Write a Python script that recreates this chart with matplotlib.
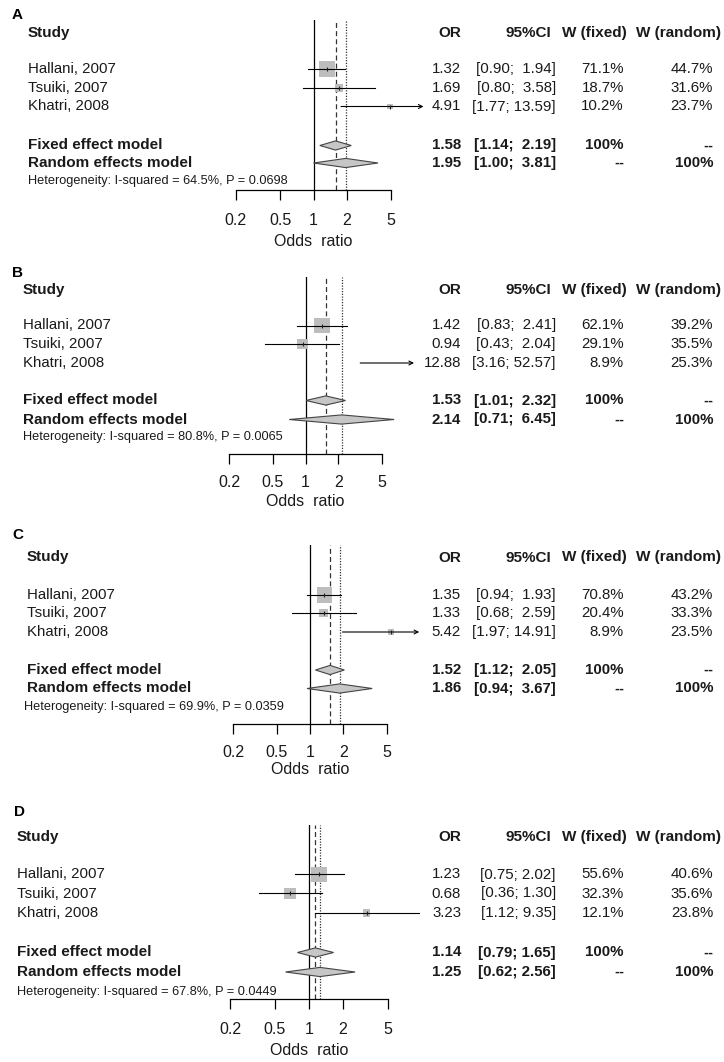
import matplotlib
matplotlib.use("Agg")
import matplotlib.pyplot as plt
from matplotlib.ticker import NullLocator
import numpy as np

plt.rcParams['font.family'] = ['Liberation Sans', 'DejaVu Sans']

# ---------------- data ----------------
studies = ["Hallani, 2007", "Tsuiki, 2007", "Khatri, 2008"]
panel_labels = ["A", "B", "C", "D"]
tick_values = [0.2, 0.5, 1, 2, 5]
tick_labels = ["0.2", "0.5", "1", "2", "5"]

or_A = [1.32, 1.69, 4.91]
lo_A = [0.90, 0.80, 1.77]
hi_A = [1.94, 3.58, 13.59]
wf_A = [71.1, 18.7, 10.2]
wr_A = [44.7, 31.6, 23.7]
fixed_A = [1.58, 1.14, 2.19]
random_A = [1.95, 1.00, 3.81]
i2_A, p_A = 64.5, "0.0698"

or_B = [1.42, 0.94, 12.88]
lo_B = [0.83, 0.43, 3.16]
hi_B = [2.41, 2.04, 52.57]
wf_B = [62.1, 29.1, 8.9]
wr_B = [39.2, 35.5, 25.3]
fixed_B = [1.53, 1.01, 2.32]
random_B = [2.14, 0.71, 6.45]
i2_B, p_B = 80.8, "0.0065"

or_C = [1.35, 1.33, 5.42]
lo_C = [0.94, 0.68, 1.97]
hi_C = [1.93, 2.59, 14.91]
wf_C = [70.8, 20.4, 8.9]
wr_C = [43.2, 33.3, 23.5]
fixed_C = [1.52, 1.12, 2.05]
random_C = [1.86, 0.94, 3.67]
i2_C, p_C = 69.9, "0.0359"

or_D = [1.23, 0.68, 3.23]
lo_D = [0.75, 0.36, 1.12]
hi_D = [2.02, 1.30, 9.35]
wf_D = [55.6, 32.3, 12.1]
wr_D = [40.6, 35.6, 23.8]
fixed_D = [1.14, 0.79, 1.65]
random_D = [1.25, 0.62, 2.56]
i2_D, p_D = 67.8, "0.0449"

panels = [
    (or_A, lo_A, hi_A, wf_A, wr_A, fixed_A, random_A, i2_A, p_A),
    (or_B, lo_B, hi_B, wf_B, wr_B, fixed_B, random_B, i2_B, p_B),
    (or_C, lo_C, hi_C, wf_C, wr_C, fixed_C, random_C, i2_C, p_C),
    (or_D, lo_D, hi_D, wf_D, wr_D, fixed_D, random_D, i2_D, p_D),
]

# ---------------- layout (pixels) ----------------
W, H = 724, 1062
layouts = [
    dict(letter=(12, 15), left=28, hetx=28, head=33, rows=[69, 88, 106.5], fixed=145.5, random=163,
         het=181, top=20, axis=190, p1=313.5, ppd=111, xlab=241, pad=9.5),
    dict(letter=(12, 273), left=23, hetx=23, head=290, rows=[325.5, 344, 363], fixed=400.5, random=419.5,
         het=437, top=277, axis=453.5, p1=305.5, ppd=109.5, xlab=501, pad=8.5),
    dict(letter=(12, 535), left=27, hetx=24, head=557.5, rows=[595, 613, 632], fixed=670, random=688.5,
         het=707, top=545, axis=723.5, p1=310, ppd=110.2, xlab=769, pad=8.0),
    dict(letter=(14, 812), left=17, hetx=17, head=837, rows=[874.5, 893.5, 913], fixed=952.5, random=972,
         het=991.5, top=825, axis=998.5, p1=309, ppd=113, xlab=1051, pad=9.5),
]
col_or, col_ci, col_wf, col_wr = 461, 556, 624, 713
head_or, head_ci, head_wf, head_wr = 461, 551, 627, 721
XMAX = 10.0
ARROW_END = 9.8

fig = plt.figure(figsize=(W / 100, H / 100), dpi=100)
fig.patch.set_facecolor("white")

FS = 10.8
TXT = "#1a1a1a"


def ftext(x, y, s, **kw):
    kw.setdefault("va", "center")
    kw.setdefault("fontsize", FS)
    kw.setdefault("color", TXT)
    fig.text(x / W, 1 - y / H, s, **kw)


for (orv, lo, hi, wf, wr, fx, rd, i2, pv), L, lab in zip(panels, layouts, panel_labels):
    px = lambda v: L["p1"] + L["ppd"] * np.log10(v)
    left_px, right_px = px(0.2), px(XMAX)
    ax = fig.add_axes([left_px / W, 1 - L["axis"] / H, (right_px - left_px) / W,
                       (L["axis"] - L["top"]) / H])
    ax.set_xscale("log")
    ax.set_xlim(0.2, XMAX)
    ax.set_ylim(L["axis"], L["top"])
    ax.patch.set_alpha(0)
    for s in ["top", "right", "left"]:
        ax.spines[s].set_visible(False)
    ax.spines["bottom"].set_bounds(0.2, 5)
    ax.spines["bottom"].set_linewidth(0.9)
    ax.set_yticks([])
    ax.set_xticks(tick_values)
    ax.set_xticklabels(tick_labels)
    ax.xaxis.set_minor_locator(NullLocator())
    ax.tick_params(axis="x", length=7.2, width=0.9, pad=L["pad"], labelsize=11.5, labelcolor=TXT)

    # reference lines
    ax.axvline(1, color="black", lw=0.9, zorder=1)
    ax.axvline(fx[0], color="#333333", lw=0.9, ls=(0, (4, 2.5)), zorder=1)
    ax.axvline(rd[0], color="#333333", lw=0.9, ls=(0, (1, 1.2)), zorder=1)

    # studies
    wmax = max(wf)
    for est, l, h, w, y in zip(orv, lo, hi, wf, L["rows"]):
        side_px = 15.5 * np.sqrt(w / wmax)
        if est <= XMAX:
            ax.scatter([est], [y], marker="s", s=(side_px * 0.72) ** 2, color="#bdbdbd",
                       edgecolors="none", zorder=2, clip_on=False)
            ax.plot([est], [y], marker="|", ms=3.5, mew=0.8, color="#222222", zorder=4,
                    clip_on=False)
        if h > XMAX:
            ax.annotate("", xy=(ARROW_END, y), xytext=(l, y),
                        arrowprops=dict(arrowstyle="->", lw=0.8, color="black",
                                        shrinkA=0, shrinkB=0, mutation_scale=7),
                        annotation_clip=False, zorder=3)
        else:
            ax.plot([l, h], [y, y], color="black", lw=0.8, zorder=3, clip_on=False)

    # diamonds
    for (est, l, h), y in ((fx, L["fixed"]), (rd, L["random"])):
        dh = 4.6
        ax.fill([l, est, h, est], [y, y - dh, y, y + dh], facecolor="#c6c6c6",
                edgecolor="#444444", lw=0.8, zorder=3, clip_on=False)

    ax.text(1, L["xlab"], "Odds  ratio", ha="center", va="center", fontsize=11.5,
            color=TXT, clip_on=False)

    # left text
    ftext(L["letter"][0], L["letter"][1], lab, fontweight="bold", fontsize=11, color="black")
    ftext(L["left"], L["head"], "Study", fontweight="bold", fontsize=11)
    for name, y in zip(studies, L["rows"]):
        ftext(L["left"], y, name)
    ftext(L["left"], L["fixed"], "Fixed effect model", fontweight="bold", fontsize=11)
    ftext(L["left"], L["random"], "Random effects model", fontweight="bold", fontsize=11)
    ftext(L["hetx"], L["het"], f"Heterogeneity: I-squared = {i2:.1f}%, P = {pv}", fontsize=9.2)

    # right columns
    for s, x in (("OR", head_or), ("95%CI", head_ci), ("W (fixed)", head_wf), ("W (random)", head_wr)):
        ftext(x, L["head"], s, ha="right", fontweight="bold", fontsize=11)
    all_hi = list(hi) + [fx[2], rd[2]]
    wid = max(len(f"{v:.2f}") for v in all_hi)

    def ci_str(l, h):
        return "[" + f"{l:.2f}" + "; " + f"{h:.2f}".rjust(wid) + "]"

    for est, l, h, a, b, y in zip(orv, lo, hi, wf, wr, L["rows"]):
        ftext(col_or, y, f"{est:.2f}", ha="right")
        ftext(col_ci, y, ci_str(l, h), ha="right")
        ftext(col_wf, y, f"{a:.1f}%", ha="right")
        ftext(col_wr, y, f"{b:.1f}%", ha="right")
    for (est, l, h), y, a, b in ((fx, L["fixed"], "100%", "--"), (rd, L["random"], "--", "100%")):
        ftext(col_or, y, f"{est:.2f}", ha="right", fontweight="bold")
        ftext(col_ci, y, ci_str(l, h), ha="right", fontweight="bold")
        ftext(col_wf, y, a, ha="right", fontweight="bold")
        ftext(col_wr, y, b, ha="right", fontweight="bold")

fig.savefig("out.png", dpi=100, facecolor="white")
